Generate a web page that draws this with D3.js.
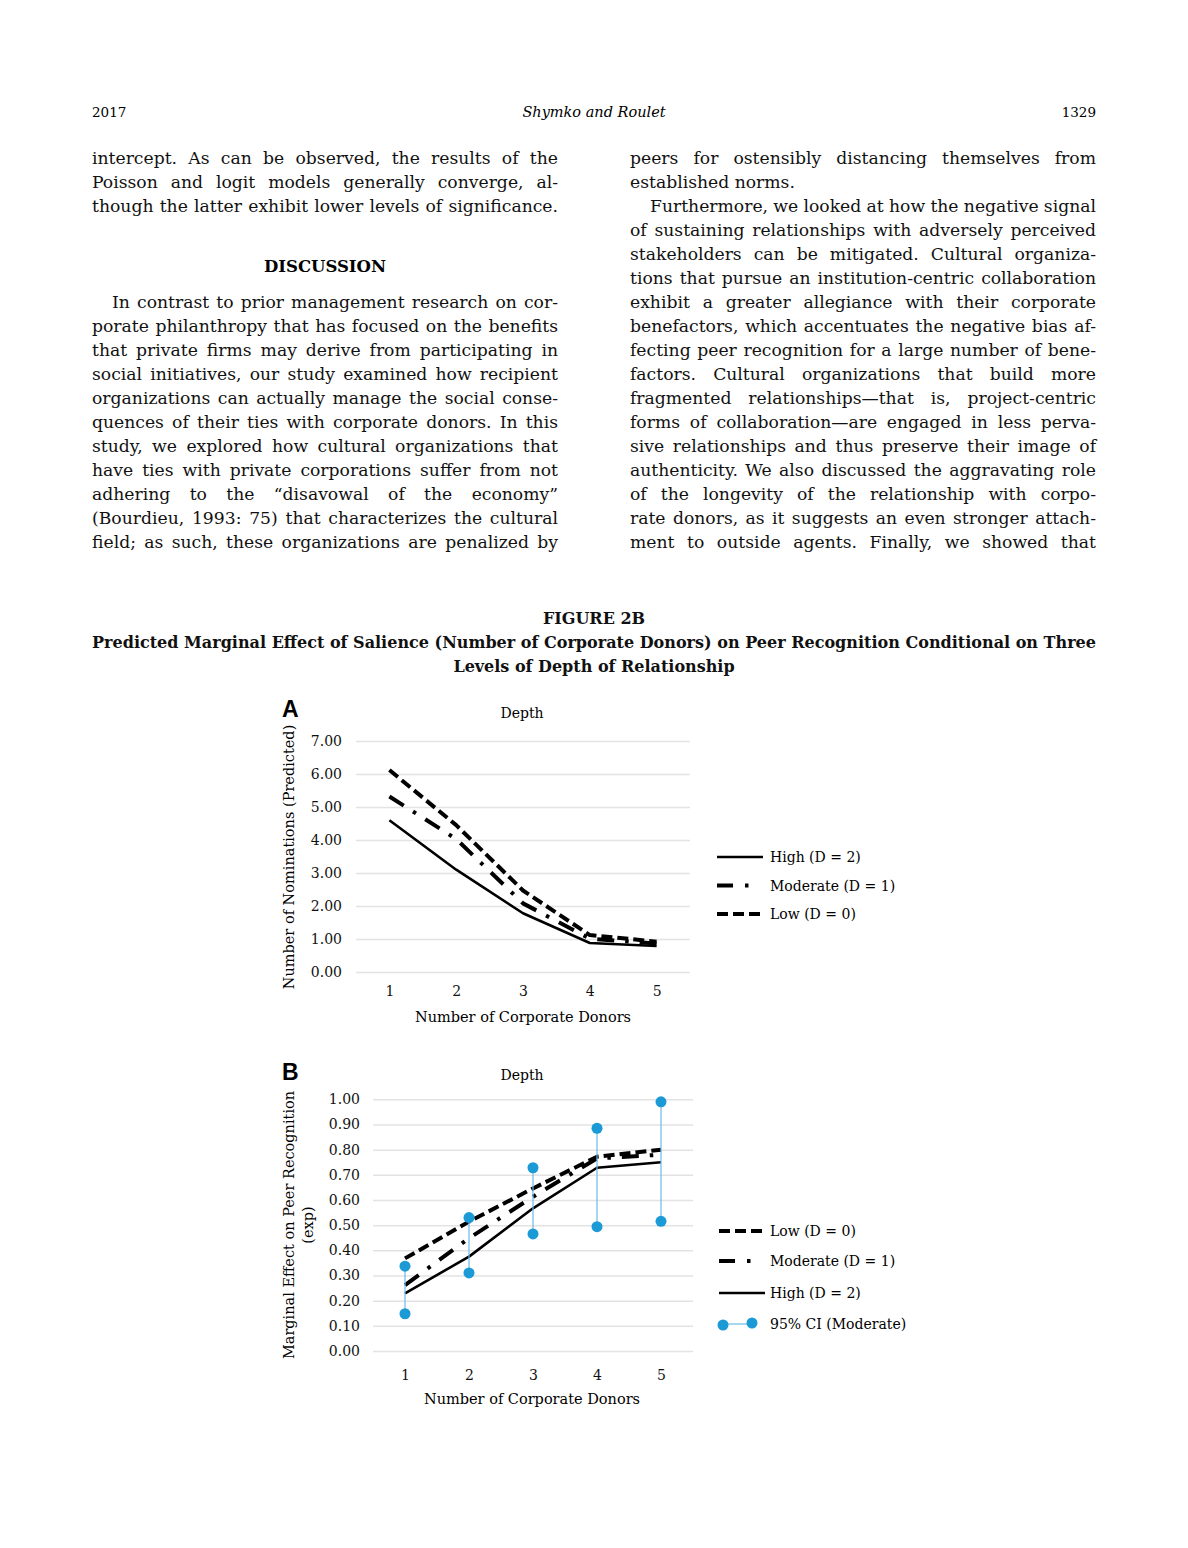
<!DOCTYPE html>
<html><head><meta charset="utf-8">
<script src="https://cdn.jsdelivr.net/npm/d3@7"></script>
<style>
html,body{margin:0;padding:0;background:#fff;}
svg{display:block;}
</style></head>
<body>
<svg id="page" width="1188" height="1548"></svg>
<script>
// ---------- DATA ----------
const donors = ["1","2","3","4","5"];
const yTicksA = [0,1,2,3,4,5,6,7];
const yTicksB = [0,0.1,0.2,0.3,0.4,0.5,0.6,0.7,0.8,0.9,1.0];
// Panel A: predicted number of nominations
const lowA      = [6.12, 4.45, 2.47, 1.12, 0.92];
const moderateA = [5.32, 4.03, 2.08, 1.01, 0.86];
const highA     = [4.60, 3.10, 1.78, 0.88, 0.79];
// Panel B: marginal effect on peer recognition (exp)
const lowB      = [0.368, 0.514, 0.646, 0.772, 0.800];
const moderateB = [0.262, 0.448, 0.613, 0.765, 0.780];
const highB     = [0.229, 0.375, 0.567, 0.728, 0.750];
const ciLowerB  = [0.148, 0.310, 0.465, 0.494, 0.515];
const ciUpperB  = [0.337, 0.530, 0.728, 0.885, 0.990];

const legendA = ["High (D = 2)", "Moderate (D = 1)", "Low (D = 0)"];
const legendB = ["Low (D = 0)", "Moderate (D = 1)", "High (D = 2)", "95% CI (Moderate)"];

// ---------- TEXT ----------
const headerLeft = "2017", headerCenter = "Shymko and Roulet", headerRight = "1329";
const leftTop = [
  "intercept. As can be observed, the results of the",
  "Poisson and logit models generally converge, al-",
  "though the latter exhibit lower levels of significance."
];
const discussion = "DISCUSSION";
const leftPara = [
  "In contrast to prior management research on cor-",
  "porate philanthropy that has focused on the benefits",
  "that private firms may derive from participating in",
  "social initiatives, our study examined how recipient",
  "organizations can actually manage the social conse-",
  "quences of their ties with corporate donors. In this",
  "study, we explored how cultural organizations that",
  "have ties with private corporations suffer from not",
  "adhering to the \u201cdisavowal of the economy\u201d",
  "(Bourdieu, 1993: 75) that characterizes the cultural",
  "field; as such, these organizations are penalized by"
];
const rightLines = [
  "peers for ostensibly distancing themselves from",
  "established norms.",
  "Furthermore, we looked at how the negative signal",
  "of sustaining relationships with adversely perceived",
  "stakeholders can be mitigated. Cultural organiza-",
  "tions that pursue an institution-centric collaboration",
  "exhibit a greater allegiance with their corporate",
  "benefactors, which accentuates the negative bias af-",
  "fecting peer recognition for a large number of bene-",
  "factors. Cultural organizations that build more",
  "fragmented relationships\u2014that is, project-centric",
  "forms of collaboration\u2014are engaged in less perva-",
  "sive relationships and thus preserve their image of",
  "authenticity. We also discussed the aggravating role",
  "of the longevity of the relationship with corpo-",
  "rate donors, as it suggests an even stronger attach-",
  "ment to outside agents. Finally, we showed that"
];
const figTitle = ["FIGURE 2B",
  "Predicted Marginal Effect of Salience (Number of Corporate Donors) on Peer Recognition Conditional on Three",
  "Levels of Depth of Relationship"];

const svg = d3.select("#page");
const SERIF = "'DejaVu Serif', serif";
const bodySize = 17.2;

// header
svg.append("text").attr("x",92).attr("y",117).attr("font-family",SERIF).attr("font-size",13.5).text(headerLeft);
svg.append("text").attr("x",594).attr("y",117).attr("text-anchor","middle").attr("font-family",SERIF).attr("font-style","italic").attr("font-size",14.5).text(headerCenter);
svg.append("text").attr("x",1096).attr("y",117).attr("text-anchor","end").attr("font-family",SERIF).attr("font-size",13.5).text(headerRight);

function textLine(x, y, str, width, justify){
  const t = svg.append("text").attr("x",x).attr("y",y).attr("font-family",SERIF)
    .attr("font-size",bodySize).attr("fill","#111").text(str);
  if (justify){
    const nat = t.node().getComputedTextLength();
    const spaces = (str.match(/ /g)||[]).length;
    if (spaces>0){
      const ws = (width - nat)/spaces;
      t.attr("word-spacing", ws);
      const after = t.node().getComputedTextLength();
      if (Math.abs(after-width) > 3) t.attr("word-spacing",null).attr("textLength",width).attr("lengthAdjust","spacing");
    }
  }
  return t;
}
const colL = 92, colR = 630, colW = 466, lh = 24;
leftTop.forEach((s,i)=> textLine(colL, 164+i*lh, s, colW, true));
svg.append("text").attr("x",325).attr("y",272).attr("text-anchor","middle").attr("font-family",SERIF)
  .attr("font-weight","bold").attr("font-size",16.5).text(discussion);
leftPara.forEach((s,i)=>{
  const ind = i===0 ? 20 : 0;
  textLine(colL+ind, 308+i*lh, s, colW-ind, true);
});
rightLines.forEach((s,i)=>{
  const ind = i===2 ? 20 : 0;
  textLine(colR+ind, 164+i*lh, s, colW-ind, i!==1);
});

// figure title
figTitle.forEach((s,i)=>{
  const t = svg.append("text").attr("x",594).attr("y",624+i*24).attr("text-anchor","middle")
    .attr("font-family",SERIF).attr("font-weight","bold").attr("font-size",16).attr("fill","#111").text(s);
  if (i===1) t.attr("textLength",1004).attr("lengthAdjust","spacingAndGlyphs");
});

// ---------- styles ----------
const styles = {
  low:      {dash:"11,5", width:4},
  moderate: {dash:"17,11,3.5,11", width:4},
  high:     {dash:null, width:2.6}
};
const chartFont = 14;

function panel(cfg){
  const g = svg.append("g");
  const x = d3.scalePoint().domain(donors).range([cfg.x0,cfg.x1]).padding(0.5);
  const y = d3.scaleLinear().domain(cfg.yDomain).range([cfg.yBottom,cfg.yTop]);
  const ya = g.append("g").attr("transform",`translate(${cfg.x0},0)`)
    .call(d3.axisLeft(y).tickValues(cfg.yTicks).tickFormat(d3.format(".2f"))
      .tickSize(-(cfg.x1-cfg.x0)).tickPadding(cfg.yPad));
  ya.select(".domain").remove();
  ya.selectAll(".tick line").attr("stroke","#e3e3e3").attr("stroke-width",1.5);
  ya.selectAll(".tick text").attr("font-family",SERIF).attr("font-size",chartFont).attr("fill","#111");
  const xa = g.append("g").attr("transform",`translate(0,${cfg.yBottom})`)
    .call(d3.axisBottom(x).tickSize(0).tickPadding(cfg.xPad));
  xa.select(".domain").remove();
  xa.selectAll(".tick text").attr("font-family",SERIF).attr("font-size",chartFont).attr("fill","#111");
  g.append("text").attr("x",cfg.letterX).attr("y",cfg.letterY).attr("font-family","'Liberation Sans', Arial, sans-serif")
    .attr("font-weight","bold").attr("font-size",23).text(cfg.letter);
  g.append("text").attr("x",522).attr("y",cfg.depthY).attr("text-anchor","middle").attr("font-family",SERIF)
    .attr("font-size",chartFont).text("Depth");
  g.append("text").attr("x",(cfg.xLabelX)).attr("y",cfg.xLabelY).attr("text-anchor","middle").attr("font-family",SERIF)
    .attr("font-size",14.5).text("Number of Corporate Donors");
  cfg.yLabel.forEach((s,i)=>{
    g.append("text").attr("transform",`translate(${cfg.yLabelX+i*19},${cfg.yLabelY}) rotate(-90)`)
      .attr("text-anchor","middle").attr("font-family",SERIF).attr("font-size",14.5).text(s);
  });
  const line = d3.line().x((d,i)=>x(donors[i])).y(d=>y(d));
  cfg.series.forEach(s=>{
    const st = styles[s.key];
    const p = g.append("path").datum(s.values).attr("d",line).attr("fill","none")
      .attr("stroke","#000").attr("stroke-width",st.width).attr("stroke-linejoin","round");
    if (st.dash) p.attr("stroke-dasharray",st.dash);
  });
  return {g,x,y};
}

function legendLine(key, x1, yy){
  const st = styles[key];
  const x2 = key==="moderate" ? x1+33 : x1+46;
  const l = svg.append("line").attr("x1",x1).attr("x2",x2).attr("y1",yy).attr("y2",yy)
    .attr("stroke","#000").attr("stroke-width",st.width);
  if (st.dash) l.attr("stroke-dasharray", key==="moderate" ? "16,12,3.5,20" : st.dash);
}

// Panel A
const A = panel({
  x0:356, x1:690, yBottom:972, yTop:741, yDomain:[0,7], yTicks:yTicksA, yPad:14, xPad:14,
  letter:"A", letterX:282, letterY:717, depthY:718, xLabelX:523, xLabelY:1022,
  yLabel:["Number of Nominations (Predicted)"], yLabelX:294, yLabelY:857,
  series:[{key:"high",values:highA},{key:"moderate",values:moderateA},{key:"low",values:lowA}]
});
legendA.forEach((lab,i)=>{
  const key = ["high","moderate","low"][i];
  const yy = 857 + i*28.5;
  legendLine(key, 717, yy);
  svg.append("text").attr("x",770).attr("y",yy+5).attr("font-family",SERIF).attr("font-size",chartFont).text(lab);
});

// Panel B
const B = panel({
  x0:373, x1:693, yBottom:1351, yTop:1099.3, yDomain:[0,1], yTicks:yTicksB, yPad:13, xPad:19,
  letter:"B", letterX:282, letterY:1080, depthY:1080, xLabelX:532, xLabelY:1404,
  yLabel:["Marginal Effect on Peer Recognition","(exp)"], yLabelX:294, yLabelY:1225,
  series:[{key:"high",values:highB},{key:"moderate",values:moderateB},{key:"low",values:lowB}]
});
const ciColor = "#1b9ad6";
const ci = B.g.append("g");
donors.forEach((d,i)=>{
  ci.append("line").attr("x1",B.x(d)).attr("x2",B.x(d)).attr("y1",B.y(ciLowerB[i])).attr("y2",B.y(ciUpperB[i]))
    .attr("stroke","#6cbbe8").attr("stroke-width",1.2);
});
ci.selectAll("circle.lo").data(ciLowerB).join("circle").attr("cx",(v,i)=>B.x(donors[i])).attr("cy",v=>B.y(v)).attr("r",5.5).attr("fill",ciColor);
ci.selectAll("circle.hi").data(ciUpperB).join("circle").attr("cx",(v,i)=>B.x(donors[i])).attr("cy",v=>B.y(v)).attr("r",5.5).attr("fill",ciColor);

legendB.forEach((lab,i)=>{
  const yy = [1231,1261,1293,1324][i];
  if (i<3){
    legendLine(["low","moderate","high"][i], 719, yy);
  } else {
    svg.append("line").attr("x1",723).attr("x2",752).attr("y1",yy).attr("y2",yy).attr("stroke","#6cbbe8").attr("stroke-width",1.2);
    svg.append("circle").attr("cx",723).attr("cy",yy+1).attr("r",5.5).attr("fill",ciColor);
    svg.append("circle").attr("cx",752).attr("cy",yy-1).attr("r",5.5).attr("fill",ciColor);
  }
  svg.append("text").attr("x",770).attr("y",yy+5).attr("font-family",SERIF).attr("font-size",chartFont).text(lab);
});
</script>
</body></html>
